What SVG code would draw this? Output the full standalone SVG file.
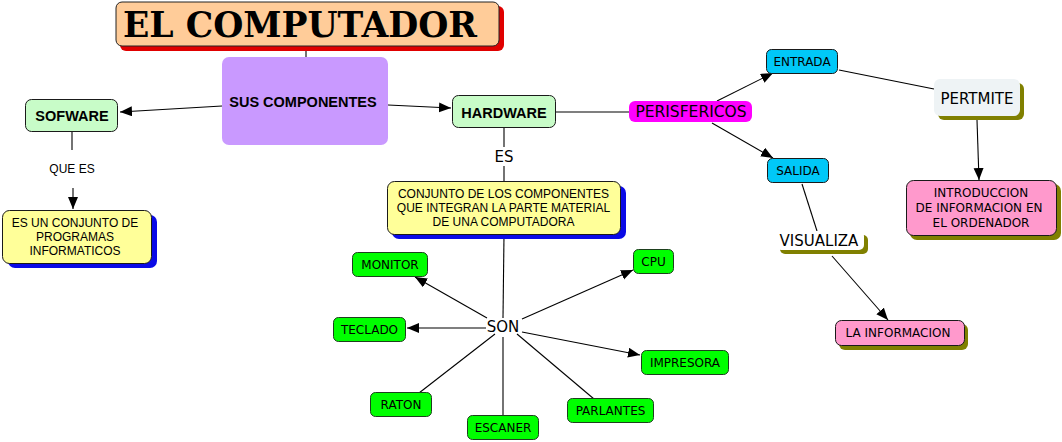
<svg xmlns="http://www.w3.org/2000/svg" width="1062" height="442" viewBox="0 0 1062 442">
<defs>
<marker id="ah" markerUnits="userSpaceOnUse" markerWidth="13" markerHeight="11" refX="12" refY="5" orient="auto"><path d="M0,0 L12,5 L0,10 z" fill="#000"/></marker>
<style>
.c{stroke:#000;stroke-width:1.1;fill:none}
.a{stroke:#000;stroke-width:1.1;fill:none;marker-end:url(#ah)}
.sans{font-family:"Liberation Sans",Arial,sans-serif;fill:#000;text-anchor:middle}
.ver{font-family:"DejaVu Sans",Verdana,sans-serif;fill:#000;text-anchor:middle}
.b{font-weight:bold;font-size:14.5px}
.s12{font-size:12px}
.l15{font-size:15px}
.grn{fill:#00FF00;stroke:#1e3f1e;stroke-width:1}
.lg{fill:#C8FCC8;stroke:#1a1a1a;stroke-width:1}
.yel{fill:#FFFF99;stroke:#1a1a1a;stroke-width:1}
.blueSh{fill:#0A0AE6}
.olv{fill:#808000}
.pink{fill:#FF99CC;stroke:#1a1a1a;stroke-width:1}
.cyan{fill:#00C8F8;stroke:#1a1a1a;stroke-width:1}
</style>
</defs>
<rect width="1062" height="442" fill="#fff"/>

<g id="connectors">
<line class="c" x1="306" y1="47" x2="306" y2="57"/>
<line class="a" x1="222" y1="106" x2="120" y2="112"/>
<line class="a" x1="388" y1="105" x2="451" y2="108"/>
<line class="c" x1="72" y1="132" x2="72" y2="150"/>
<line class="a" x1="73" y1="188" x2="73" y2="209"/>
<line class="c" x1="504" y1="128" x2="504" y2="147"/>
<line class="c" x1="504" y1="166" x2="504" y2="181"/>
<line class="c" x1="504" y1="235" x2="503" y2="318"/>
<line class="a" x1="487" y1="318" x2="415" y2="277"/>
<line class="a" x1="486" y1="328" x2="407" y2="328"/>
<line class="a" x1="522" y1="319" x2="633" y2="270"/>
<line class="a" x1="522" y1="332" x2="640" y2="355"/>
<line class="c" x1="495" y1="334" x2="419" y2="393"/>
<line class="c" x1="503" y1="337" x2="503" y2="415"/>
<line class="c" x1="517" y1="334" x2="594" y2="399"/>
<line class="c" x1="556" y1="112" x2="629" y2="112"/>
<line class="a" x1="717" y1="101" x2="773" y2="73"/>
<line class="a" x1="712" y1="123" x2="773" y2="158"/>
<line class="c" x1="839" y1="70" x2="934" y2="89"/>
<line class="a" x1="977" y1="120" x2="979" y2="180"/>
<line class="c" x1="802" y1="184" x2="817" y2="231"/>
<line class="a" x1="832" y1="256" x2="888" y2="320"/>
</g>

<g id="title">
<rect x="120" y="6" width="384" height="45" rx="6" fill="#E00000"/>
<rect x="116" y="2" width="383" height="44" rx="6" fill="#FFCC99" stroke="#222" stroke-width="1"/>
<text x="300" y="37" font-family="'DejaVu Serif',serif" font-weight="bold" font-size="36" text-anchor="middle" textLength="354" lengthAdjust="spacingAndGlyphs" fill="#000">EL COMPUTADOR</text>
</g>

<g id="sus">
<rect x="222" y="57" width="166" height="88" rx="7" fill="#C999FF"/>
<text class="sans b" x="303" y="107">SUS COMPONENTES</text>
</g>

<g id="sofware">
<rect class="lg" x="25.5" y="99.5" width="92" height="32" rx="6"/>
<text class="sans b" x="72" y="121">SOFWARE</text>
</g>

<g id="quees">
<text class="sans s12" x="72" y="173">QUE ES</text>
</g>

<g id="programas">
<rect class="blueSh" x="8" y="215" width="149" height="53" rx="7"/>
<rect class="yel" x="2.5" y="210.5" width="149" height="53" rx="7"/>
<text class="sans s12" x="75" y="227">ES UN CONJUNTO DE</text>
<text class="sans s12" x="75" y="241">PROGRAMAS</text>
<text class="sans s12" x="75" y="255">INFORMATICOS</text>
</g>

<g id="hardware">
<rect class="lg" x="452.5" y="95.5" width="103" height="32" rx="6"/>
<text class="sans b" x="504" y="118">HARDWARE</text>
</g>

<g id="es">
<text class="ver l15" x="504" y="162">ES</text>
</g>

<g id="conjunto">
<rect class="blueSh" x="392" y="186" width="234" height="53" rx="7"/>
<rect class="yel" x="387.5" y="181.5" width="233" height="53" rx="7"/>
<text class="sans s12" x="503.5" y="198">CONJUNTO DE LOS COMPONENTES</text>
<text class="sans s12" x="503.5" y="212">QUE INTEGRAN LA PARTE MATERIAL</text>
<text class="sans s12" x="503.5" y="226">DE UNA COMPUTADORA</text>
</g>

<g id="son">
<text class="ver l15" x="503" y="332">SON</text>
</g>

<g id="monitor">
<rect class="grn" x="352.5" y="252.5" width="75" height="24" rx="5"/>
<text class="ver s12" x="390" y="269">MONITOR</text>
</g>
<g id="teclado">
<rect class="grn" x="333.5" y="317.5" width="72" height="24" rx="5"/>
<text class="ver s12" x="369.5" y="334">TECLADO</text>
</g>
<g id="raton">
<rect class="grn" x="370.5" y="392.5" width="61" height="24" rx="5"/>
<text class="ver s12" x="401" y="409">RATON</text>
</g>
<g id="escaner">
<rect class="grn" x="467.5" y="415.5" width="71" height="24" rx="5"/>
<text class="ver s12" x="503" y="432">ESCANER</text>
</g>
<g id="parlantes">
<rect class="grn" x="567.5" y="398.5" width="86" height="24" rx="5"/>
<text class="ver s12" x="610.5" y="415">PARLANTES</text>
</g>
<g id="impresora">
<rect class="grn" x="641.5" y="350.5" width="87" height="24" rx="5"/>
<text class="ver s12" x="685" y="367">IMPRESORA</text>
</g>
<g id="cpu">
<rect class="grn" x="633.5" y="249.5" width="40" height="24" rx="5"/>
<text class="ver s12" x="653.5" y="266">CPU</text>
</g>

<g id="perisfericos">
<rect x="629" y="101" width="123" height="21" rx="6" fill="#FF00FF"/>
<text class="ver" font-size="15.5" x="691" y="117">PERISFERICOS</text>
</g>

<g id="entrada">
<rect class="cyan" x="766.5" y="49.5" width="71" height="24" rx="5"/>
<text class="ver s12" x="802" y="66">ENTRADA</text>
</g>

<g id="salida">
<rect class="cyan" x="767.5" y="158.5" width="61" height="24" rx="5"/>
<text class="ver s12" x="798" y="175">SALIDA</text>
</g>

<g id="pertmite">
<rect class="olv" x="938" y="83" width="86" height="37" rx="6"/>
<rect x="934" y="79" width="86" height="37" rx="6" fill="#EEF3F5"/>
<text class="ver l15" x="977" y="104">PERTMITE</text>
</g>

<g id="introduccion">
<rect class="olv" x="910" y="184" width="151" height="56" rx="7"/>
<rect class="pink" x="906.5" y="180.5" width="150" height="55" rx="7"/>
<text class="ver s12" x="981" y="197">INTRODUCCION</text>
<text class="ver s12" x="979" y="212">DE INFORMACION EN</text>
<text class="ver s12" x="981" y="227">EL ORDENADOR</text>
</g>

<g id="visualiza">
<rect class="olv" x="780" y="235" width="88" height="19" rx="5"/>
<rect x="776" y="231" width="88" height="19" rx="5" fill="#fff"/>
<text class="ver l15" x="819" y="246">VISUALIZA</text>
</g>

<g id="lainformacion">
<rect class="olv" x="839" y="324" width="129" height="26" rx="6"/>
<rect class="pink" x="835.5" y="320.5" width="129" height="25" rx="6"/>
<text class="ver s12" x="898" y="337">LA INFORMACION</text>
</g>
</svg>
